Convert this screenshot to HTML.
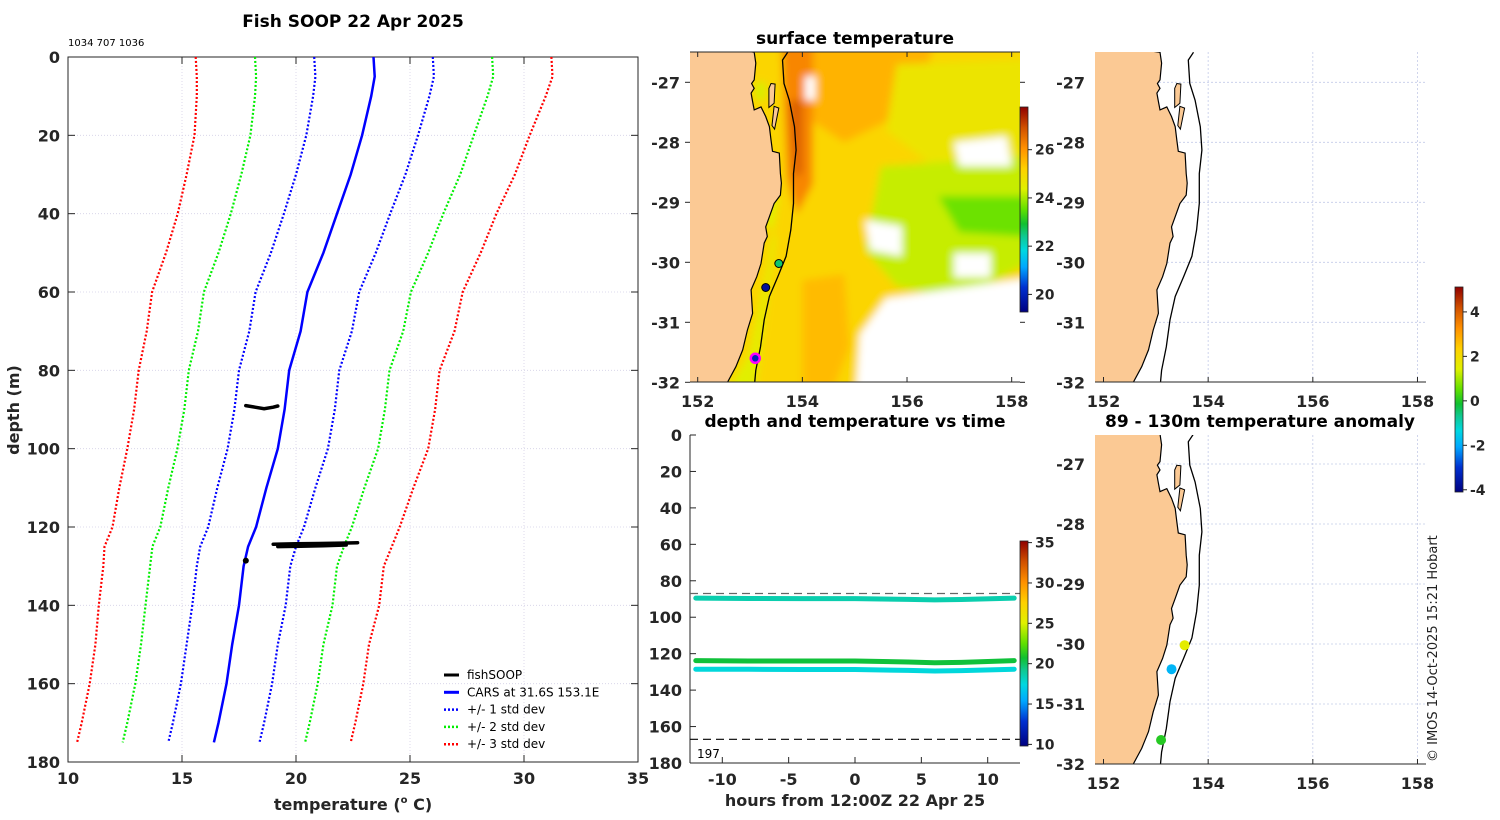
<!DOCTYPE html>
<html><head><meta charset="utf-8">
<style>
html,body{margin:0;padding:0;background:#fff;}
svg{display:block;font-family:"DejaVu Sans","Liberation Sans",sans-serif;}
.tk{font-size:16px;font-weight:bold;fill:#262626;}
.tt{font-size:17px;font-weight:bold;fill:#000;}
.lg{font-size:12px;fill:#000;}
</style></head>
<body>
<svg id="fig" width="1500" height="820" viewBox="0 0 1500 820" xmlns="http://www.w3.org/2000/svg">
<defs>
<clipPath id="clipP"><rect x="68" y="57" width="570" height="705"/></clipPath>
<clipPath id="clipA"><rect x="690" y="52" width="330" height="330"/></clipPath>
<clipPath id="clipB"><rect x="1095" y="52" width="331" height="330"/></clipPath>
<clipPath id="clipC"><rect x="1095" y="435" width="331" height="329"/></clipPath>
<clipPath id="clipT"><rect x="690" y="435" width="330" height="328"/></clipPath>
<filter id="soft" x="-5%" y="-5%" width="110%" height="110%"><feGaussianBlur stdDeviation="4"/></filter>
<linearGradient id="cbSST" x1="0" y1="1" x2="0" y2="0"></linearGradient>
<linearGradient id="cbT" x1="0" y1="1" x2="0" y2="0"></linearGradient>
<linearGradient id="cbA" x1="0" y1="1" x2="0" y2="0"></linearGradient>
</defs>

<text class="tt" x="353" y="27" text-anchor="middle">Fish SOOP 22 Apr 2025</text>
<text x="68" y="46" font-size="10" fill="#000">1034 707 1036</text>
<text class="tt" x="855" y="44" text-anchor="middle">surface temperature</text>
<text class="tt" x="855" y="427" text-anchor="middle">depth and temperature vs time</text>
<text class="tt" x="1260" y="427" text-anchor="middle">89 - 130m temperature anomaly</text>
<text class="tk" x="0" y="0" text-anchor="middle" transform="translate(19,410) rotate(-90)">depth (m)</text>
<text class="tk" x="353" y="810" text-anchor="middle">temperature (<tspan font-size="10" dy="-7">o</tspan><tspan dy="7"> C)</tspan></text>
<text class="tk" x="855" y="806" text-anchor="middle">hours from 12:00Z 22 Apr 25</text>
<text x="0" y="0" font-size="13" fill="#222" transform="translate(1437,762) rotate(-90)">© IMOS 14-Oct-2025 15:21 Hobart</text>

<g id="gProfile"></g>
<g id="gSST"></g>
<g id="gTime"></g>
<g id="gMapB"></g>
<g id="gMapC"></g>
<g id="gCbars"></g>
</svg>
<script>
// ---------- Profile data ----------
const depths=[0,5,10,20,30,40,50,60,70,80,90,100,110,120,125,130,140,150,160,170,175];
const meanT=[23.4,23.45,23.3,22.9,22.4,21.8,21.2,20.5,20.2,19.7,19.5,19.2,18.7,18.25,17.9,17.7,17.5,17.2,16.95,16.6,16.4];
const stdT=[2.6,2.6,2.55,2.45,2.4,2.33,2.3,2.27,2.25,2.2,2.2,2.2,2.15,2.1,2.1,2.05,2.05,2.0,2.0,2.0,2.0];
const fishA_T=[17.8,18.2,18.6,19.0,19.2];
const fishA_D=[89,89.4,89.8,89.4,89.1];
const fishB_T=[19.0,20.0,21.0,22.0,22.7];
const fishB_D=[124.4,124.3,124.2,124.1,124.0];
const fishC_T=[19.2,20.2,21.2,22.2];
const fishC_D=[125.0,124.9,124.8,124.6];
const fishDot=[17.8,128.6];
const xTicks=[10,15,20,25,30,35];
const yTicks=[0,20,40,60,80,100,120,140,160,180];

// ---------- Time chart data ----------
const hours=[-12,-8,-4,0,4,6,8,12];
const lineA_D=[89.5,89.7,89.8,89.8,90.2,90.5,90.3,89.5];
const lineB_D=[123.8,124.0,124.0,124.0,124.6,125.0,124.8,123.8];
const lineC_D=[128.5,128.6,128.7,128.7,129.2,129.5,129.3,128.5];
const lineA_T=18.6, lineB_T=20.6, lineC_T=17.6;
const hourTicks=[-10,-5,0,5,10];
const timeDepthTicks=[0,20,40,60,80,100,120,140,160,180];
const refDepths=[87,167];

// ---------- Map data ----------
const stLon=[153.55,153.3,153.1];
const stLat=[-30.02,-30.42,-31.6];
const stSST=[22.6,19.6,20.0];
const stAnom=[1.6,-1.8,0.1];
const lonTicks=[152,154,156,158];
const latTicks=[-27,-28,-29,-30,-31,-32];
const coast=[[153.08,-26.5],[153.11,-26.68],[153.08,-26.96],[153.03,-27.02],[153.08,-27.1],[153.02,-27.18],[153.05,-27.32],[153.08,-27.46],[153.21,-27.41],[153.3,-27.57],[153.37,-27.74],[153.4,-27.96],[153.43,-28.15],[153.56,-28.18],[153.58,-28.52],[153.6,-28.68],[153.58,-28.88],[153.46,-29.02],[153.37,-29.24],[153.3,-29.41],[153.33,-29.57],[153.27,-29.68],[153.21,-30.02],[153.13,-30.24],[153.02,-30.46],[153.05,-30.85],[152.95,-31.13],[152.86,-31.46],[152.73,-31.74],[152.57,-32.0]];
const isobath=[[153.72,-26.5],[153.62,-26.63],[153.65,-27.02],[153.75,-27.3],[153.85,-27.74],[153.88,-28.13],[153.83,-28.52],[153.83,-29.02],[153.78,-29.46],[153.69,-29.9],[153.53,-30.24],[153.37,-30.57],[153.27,-30.96],[153.2,-31.41],[153.11,-31.8],[153.09,-32.0]];
const isl1=[[153.4,-27.02],[153.48,-27.03],[153.46,-27.35],[153.36,-27.42],[153.36,-27.1]];
const isl2=[[153.46,-27.4],[153.55,-27.43],[153.47,-27.78],[153.42,-27.72]];

const NS='http://www.w3.org/2000/svg';
function mk(parent,tag,attrs){const e=document.createElementNS(NS,tag);for(const k in attrs)e.setAttribute(k,attrs[k]);parent.appendChild(e);return e;}

const cmStops=[[0,'#000080'],[0.12,'#0030d0'],[0.22,'#00a8ff'],[0.3,'#00d8e0'],[0.37,'#10c890'],[0.43,'#10c030'],[0.5,'#60e000'],[0.6,'#e0f000'],[0.7,'#ffd000'],[0.8,'#ff9000'],[0.9,'#d05000'],[1,'#900000']];
function hex2rgb(h){return [parseInt(h.substr(1,2),16),parseInt(h.substr(3,2),16),parseInt(h.substr(5,2),16)];}
function cmap(f){f=Math.max(0,Math.min(1,f));for(let i=1;i<cmStops.length;i++){if(f<=cmStops[i][0]){const a=cmStops[i-1],b=cmStops[i];const t=(f-a[0])/(b[0]-a[0]);const A=hex2rgb(a[1]),B=hex2rgb(b[1]);return 'rgb('+A.map((v,j)=>Math.round(v+(B[j]-v)*t)).join(',')+')';}}return cmStops[cmStops.length-1][1];}
['cbSST','cbT','cbA'].forEach(id=>{const g=document.getElementById(id);cmStops.forEach(s=>{mk(g,'stop',{offset:s[0],'stop-color':s[1]});});});

// ---------- Profile chart ----------
const P=document.getElementById('gProfile');
const px=t=>68+(t-10)*22.8, py=d=>57+d*(705/180);
yTicks.forEach(d=>{const l=mk(P,'line',{x1:68,x2:638,y1:py(d),y2:py(d),stroke:'#d4d0e6','stroke-width':0.8,'stroke-dasharray':'1,2'});

});
xTicks.forEach(t=>{const l=mk(P,'line',{x1:px(t),x2:px(t),y1:57,y2:762,stroke:'#d4d0e6','stroke-width':0.8,'stroke-dasharray':'1,2'});

});
mk(P,'rect',{x:68,y:57,width:570,height:705,fill:'none',stroke:'#262626','stroke-width':1});
yTicks.forEach(d=>{mk(P,'line',{x1:68,x2:75,y1:py(d),y2:py(d),stroke:'#262626'});mk(P,'line',{x1:631,x2:638,y1:py(d),y2:py(d),stroke:'#262626'});
const t=mk(P,'text',{x:60,y:py(d)+6,'text-anchor':'end',class:'tk'});t.textContent=d;

});
xTicks.forEach(v=>{mk(P,'line',{x1:px(v),x2:px(v),y1:762,y2:755,stroke:'#262626'});mk(P,'line',{x1:px(v),x2:px(v),y1:57,y2:64,stroke:'#262626'});
const t=mk(P,'text',{x:px(v),y:784,'text-anchor':'middle',class:'tk'});t.textContent=v;

});
const PC=mk(P,'g',{'clip-path':'url(#clipP)'});
const bandCols={1:'#0000ff',2:'#00ee00',3:'#ff0000'};
[1,2,3].forEach(k=>{[-1,1].forEach(s=>{
 const pts=depths.map((d,i)=>px(meanT[i]+s*k*stdT[i]).toFixed(1)+','+py(d).toFixed(1)).join(' ');
 const l=mk(PC,'polyline',{points:pts,fill:'none',stroke:bandCols[k],'stroke-width':2.2,'stroke-dasharray':'2,2'});
 
 });});
const ml=mk(PC,'polyline',{points:depths.map((d,i)=>px(meanT[i]).toFixed(1)+','+py(d).toFixed(1)).join(' '),fill:'none',stroke:'#0000ff','stroke-width':2.5});


[[fishA_T,fishA_D],[fishB_T,fishB_D],[fishC_T,fishC_D]].forEach(([T,D])=>{
 const l=mk(PC,'polyline',{points:T.map((t,i)=>px(t).toFixed(1)+','+py(D[i]).toFixed(1)).join(' '),fill:'none',stroke:'#000','stroke-width':3.5,'stroke-linecap':'round'});
 
 });
const fd=mk(PC,'circle',{cx:px(fishDot[0]),cy:py(fishDot[1]),r:3,fill:'#000'});


const legend=[['fishSOOP','#000',''],['CARS at 31.6S 153.1E','#0000ff',''],['+/- 1 std dev','#0000ff','2,2'],['+/- 2 std dev','#00ee00','2,2'],['+/- 3 std dev','#ff0000','2,2']];
const LG=mk(P,'g',{});


legend.forEach((e,i)=>{const y=675+i*17.3;
 const a={x1:444,x2:459,y1:y,y2:y,stroke:e[1],'stroke-width':e[2]?2.5:3};if(e[2])a['stroke-dasharray']=e[2];mk(LG,'line',a);
 const t=mk(LG,'text',{x:467,y:y+4,class:'lg'});t.textContent=e[0];
 
 });

// ---------- Map helpers ----------
function mapProj(x0,y0){return {x:lon=>x0+(lon-152)*52.33,y:lat=>y0+(-27-lat)*60};}
function ptsStr(M,arr){return arr.map(p=>M.x(p[0]).toFixed(1)+','+M.y(p[1]).toFixed(1)).join(' ');}
function drawMap(G,M,clip,left,top,right,bottom,withGrid){
 const C=mk(G,'g',{'clip-path':'url(#'+clip+')'});
 if(withGrid){
  lonTicks.forEach(l=>{mk(C,'line',{x1:M.x(l),x2:M.x(l),y1:top,y2:bottom,stroke:'#c4cbe8','stroke-width':0.8,'stroke-dasharray':'2,2'});});
  latTicks.forEach(l=>{mk(C,'line',{x1:left,x2:right,y1:M.y(l),y2:M.y(l),stroke:'#c4cbe8','stroke-width':0.8,'stroke-dasharray':'2,2'});});
 }
 return C;
}
function drawLand(C,M){
 const land=mk(C,'polygon',{points:ptsStr(M,coast.concat([[151.5,-32.3],[151.5,-26.3]])),fill:'#fbc994',stroke:'#000','stroke-width':1.2});
 
 
 [isl1,isl2].forEach(s=>{mk(C,'polygon',{points:ptsStr(M,s),fill:'#fbc994',stroke:'#000','stroke-width':1});});
 const iso=mk(C,'polyline',{points:ptsStr(M,isobath),fill:'none',stroke:'#000','stroke-width':1.3});
 
 
}
function mapAxes(G,M,left,top,right,bottom,labX){
 mk(G,'line',{x1:left,x2:right,y1:bottom,y2:bottom,stroke:'#262626'});
 lonTicks.forEach(l=>{mk(G,'line',{x1:M.x(l),x2:M.x(l),y1:bottom,y2:bottom-5,stroke:'#262626'});
  const t=mk(G,'text',{x:M.x(l),y:bottom+25,'text-anchor':'middle',class:'tk'});t.textContent=l;
  
  });
 latTicks.forEach(l=>{const t=mk(G,'text',{x:labX,y:M.y(l)+6,'text-anchor':'end',class:'tk'});t.textContent=l;
  
  });
}

// ---------- SST map ----------
const A=document.getElementById('gSST');
const MA=mapProj(697.7,82.3);
const CA=drawMap(A,MA,'clipA',690,52,1020,382,false);
const sstC=t=>cmap((t-19.27)/(27.77-19.27));
const sstShapes=[
 [[[152.5,-26.0],[158.8,-26.0],[158.8,-32.5],[152.5,-32.5]],25.1],
 [[[154,-26.4],[156.5,-26.4],[156.2,-27.4],[154.8,-28],[154.1,-27.6]],25.6],
 [[[153.6,-26.3],[154.2,-26.3],[154.2,-28.7],[153.9,-29.2],[153.7,-28.6]],26.2],
 [[[153.75,-27.3],[154.0,-27.3],[154.0,-28.5],[153.85,-28.6]],26.7],
 [[[155.8,-26.7],[158.8,-26.6],[158.8,-28.2],[156.5,-28.4],[155.6,-27.8]],24.7],
 [[[155.5,-28.4],[158.8,-28.2],[158.8,-29.8],[157,-30.6],[155.8,-30.4],[155.2,-29.8]],24.2],
 [[[156.6,-28.9],[158.8,-28.9],[158.8,-29.6],[157,-29.5]],23.6],
 [[[153.0,-28.9],[153.55,-28.9],[153.35,-30.0],[153.0,-31.5],[152.6,-32.1],[153.1,-32.1],[153.3,-30.8],[153.5,-29.6]],24.4],
 [[[153.1,-27.0],[153.3,-27.0],[153.3,-27.3],[153.1,-27.3]],24.3],
 [[[154.0,-30.3],[154.8,-30.2],[154.9,-31.4],[154.6,-32.1],[154.0,-32.1]],25.5],
 [[[155.6,-30.6],[158.8,-30.2],[158.8,-32.5],[155.0,-32.5],[155.1,-31.2]],null],
 [[[156.9,-28.0],[157.9,-27.9],[158.0,-28.4],[157.0,-28.4]],null],
 [[[155.2,-29.3],[155.9,-29.4],[155.9,-29.9],[155.3,-29.8]],null],
 [[[154.05,-26.9],[154.25,-26.9],[154.25,-27.3],[154.05,-27.3]],null],
 [[[156.9,-29.85],[157.6,-29.85],[157.6,-30.25],[156.9,-30.25]],null]
];
const SG=mk(CA,'g',{filter:'url(#soft)'});
sstShapes.forEach(s=>{const p=mk(SG,'polygon',{points:ptsStr(MA,s[0]),fill:s[1]===null?'#ffffff':sstC(s[1])});
 
 });
drawLand(CA,MA);
stLon.forEach((l,i)=>{
 const st=i===2?'#ff00ff':'#000';const sw=i===2?2.5:1;
 const c=mk(CA,'circle',{cx:MA.x(l),cy:MA.y(stLat[i]),r:i===2?4.5:4,fill:sstC(stSST[i]),stroke:st,'stroke-width':sw});
 
 });
mk(A,'line',{x1:690,x2:1020,y1:52,y2:52,stroke:'#262626'});
lonTicks.forEach(l=>{mk(A,'line',{x1:MA.x(l),x2:MA.x(l),y1:52,y2:57,stroke:'#262626'});});
latTicks.forEach(l=>{mk(A,'line',{x1:690,x2:685,y1:MA.y(l),y2:MA.y(l),stroke:'#262626'});mk(A,'line',{x1:1020,x2:1025,y1:MA.y(l),y2:MA.y(l),stroke:'#262626'});});
mapAxes(A,MA,690,52,1020,382,680);

// ---------- Right maps ----------
const B=document.getElementById('gMapB');
const MB=mapProj(1103.5,82.3);
const CB=drawMap(B,MB,'clipB',1095,52,1426,382,true);
drawLand(CB,MB);
mapAxes(B,MB,1095,52,1426,382,1085);
const Cg=document.getElementById('gMapC');
const MC=mapProj(1103.5,464);
const CC=drawMap(Cg,MC,'clipC',1095,435,1426,764,true);
drawLand(CC,MC);
const anomC=a=>cmap((a+4)/(5.12+4));
stLon.forEach((l,i)=>{const c=mk(CC,'circle',{cx:MC.x(l),cy:MC.y(stLat[i]),r:5,fill:anomC(stAnom[i])});
 
 });
mapAxes(Cg,MC,1095,435,1426,764,1085);

// ---------- Time chart ----------
const T=document.getElementById('gTime');
const tx=h=>855+h*13.27, ty=d=>435+d*(328/180);
mk(T,'line',{x1:690,x2:690,y1:435,y2:763,stroke:'#262626'});
mk(T,'line',{x1:690,x2:1020,y1:763,y2:763,stroke:'#262626'});
timeDepthTicks.forEach(d=>{mk(T,'line',{x1:690,x2:696,y1:ty(d),y2:ty(d),stroke:'#262626'});
 const t=mk(T,'text',{x:682,y:ty(d)+6,'text-anchor':'end',class:'tk'});t.textContent=d;
 
 });
hourTicks.forEach(h=>{mk(T,'line',{x1:tx(h),x2:tx(h),y1:763,y2:757,stroke:'#262626'});
 const t=mk(T,'text',{x:tx(h),y:785,'text-anchor':'middle',class:'tk'});t.textContent=h;
 
 });
const TC=mk(T,'g',{'clip-path':'url(#clipT)'});
refDepths.forEach((d,i)=>{const l=mk(TC,'line',{x1:690,x2:1020,y1:ty(d),y2:ty(d),stroke:i===0?'#666':'#000','stroke-width':1.2,'stroke-dasharray':'8,5'});
 
 });
const tC=t=>cmap((t-10)/25);
[[lineA_D,lineA_T],[lineB_D,lineB_T],[lineC_D,lineC_T]].forEach(([D,tv])=>{
 const l=mk(TC,'polyline',{points:hours.map((h,i)=>tx(h).toFixed(1)+','+ty(D[i]).toFixed(1)).join(' '),fill:'none',stroke:tC(tv),'stroke-width':5,'stroke-linecap':'round'});
 
 });
const n197=mk(T,'text',{x:697,y:758,'font-size':12,fill:'#000'});n197.textContent='197';



// ---------- Colorbars ----------
const CBG=document.getElementById('gCbars');
function cbar(x,y0,y1,grad,vmin,vmax,ticks,name){
 const r=mk(CBG,'rect',{x:x,y:y0,width:8,height:y1-y0,fill:'url(#'+grad+')',stroke:'#222','stroke-width':0.8});
 
 
 ticks.forEach(v=>{const y=y1-(v-vmin)/(vmax-vmin)*(y1-y0);
  mk(CBG,'line',{x1:x+8,x2:x+12,y1:y,y2:y,stroke:'#222'});
  const t=mk(CBG,'text',{x:x+15,y:y+5,'font-size':14,'font-weight':'bold',fill:'#262626'});t.textContent=v;
  
  });
}
cbar(1020,107,312,'cbSST',19.27,27.77,[20,22,24,26],'sst-colorbar');
cbar(1020,541,746,'cbT',9.8,35.2,[10,15,20,25,30,35],'temperature-colorbar');
cbar(1455,287,492,'cbA',-4.1,5.12,[-4,-2,0,2,4],'anomaly-colorbar');
</script>
</body></html>
